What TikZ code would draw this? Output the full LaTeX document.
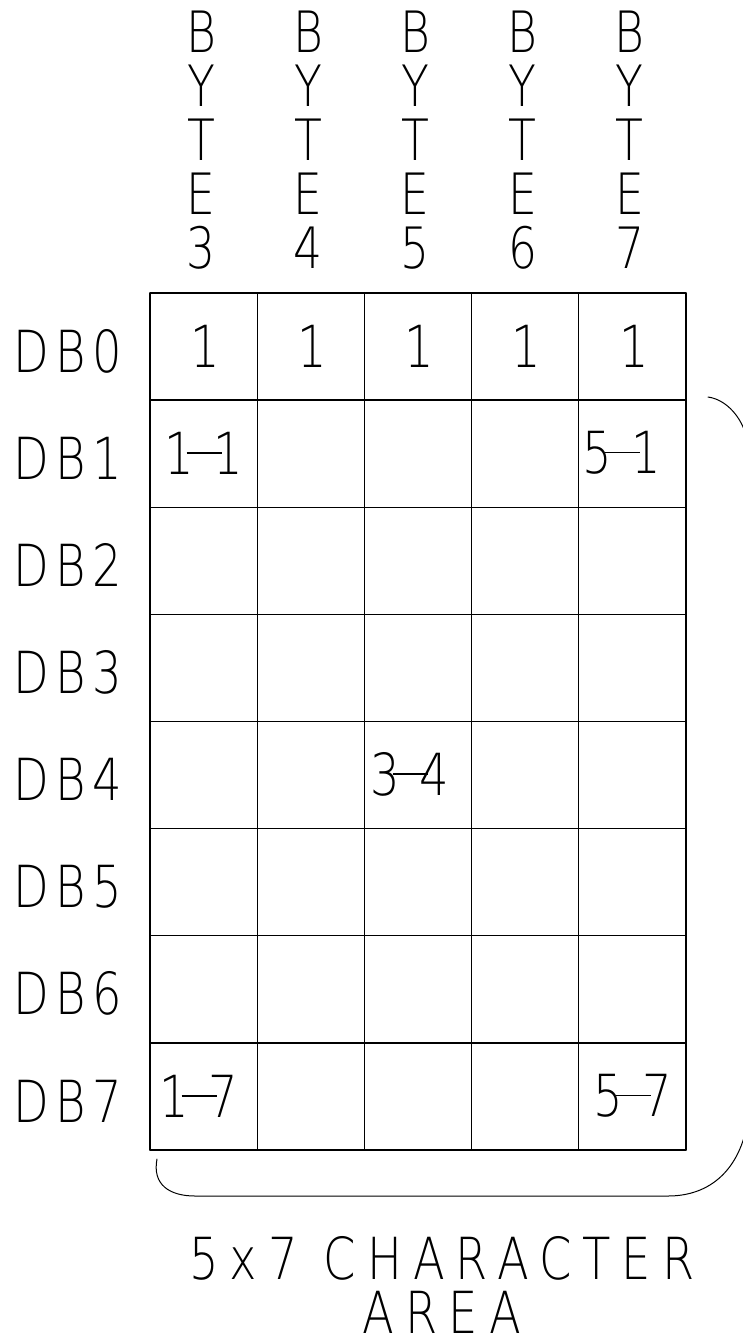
\documentclass[tikz,border=0pt]{standalone}
\usepackage{fontspec}
\newfontfamily\cadfont{DejaVu Sans ExtraLight}[FakeStretch=0.8,LetterSpace=11.5]
\newfontfamily\capfont{DejaVu Sans ExtraLight}[FakeStretch=0.8,LetterSpace=19]
\newfontfamily\cellfont{DejaVu Sans ExtraLight}[FakeStretch=0.8]
\newfontfamily\headfont{DejaVu Sans ExtraLight}[FakeStretch=0.8]
\newcommand\cdash{\hspace{-8pt}\rule[20.5pt]{35pt}{1.5pt}\hspace{-8pt}}
\tikzset{
  lbl/.style={inner sep=0pt,font=\cadfont\fontsize{58}{54}\selectfont},
  capt/.style={inner sep=0pt,font=\capfont\fontsize{58}{54}\selectfont},
  cell/.style={inner sep=0pt,font=\cellfont\fontsize{58}{54}\selectfont},
  head/.style={inner sep=0pt,align=center,font=\headfont\fontsize{57}{54}\selectfont},
  gridline/.style={line width=1.3pt}
}
\begin{document}
\begin{tikzpicture}[x=1pt,y=-1pt,line cap=round]
\useasboundingbox (0,0) rectangle (742,1342);
% grid of the character area
\foreach \i in {0,...,8}
  \draw[gridline] (150,293+107.125*\i) -- (686,293+107.125*\i);
\foreach \j in {0,...,5}
  \draw[gridline] (150+107.2*\j,293) -- (150+107.2*\j,1150);
% byte headers
\foreach \n [count=\j from 0] in {3,...,7}
  \node[head] (byte\n) at (201+107.2*\j,140) {B\\Y\\T\\E\\\n};
% data bit labels
\foreach \i in {0,...,7}
  \node[lbl] (db\i) at (68,351+107.125*\i) {DB\i};
% cell entries
\foreach \j in {0,...,4}
  \node[cell] (one\j) at (205+107.2*\j,346) {1};
\node[cell] (c11) at (204,453) {1\cdash1};
\node[cell] (c51) at (622,453) {5\cdash1};
\node[cell] (c34) at (410,774) {3\cdash4};
\node[cell] (c17) at (199,1096) {1\cdash7};
\node[cell] (c57) at (633,1096) {5\cdash7};
% bracket
\draw[line width=1pt] (157,1159) .. controls (152,1185) and (170,1196) .. (195,1196)
  -- (668,1196) .. controls (710,1196) and (740,1170) .. (748,1120)
  -- (748,450) .. controls (748,425) and (730,400) .. (708,397);
% caption
\node[capt] (capa) at (442,1258) {5x7 CHARACTER};
\node[capt] (capb) at (442,1312) {AREA};
\end{tikzpicture}
\end{document}
